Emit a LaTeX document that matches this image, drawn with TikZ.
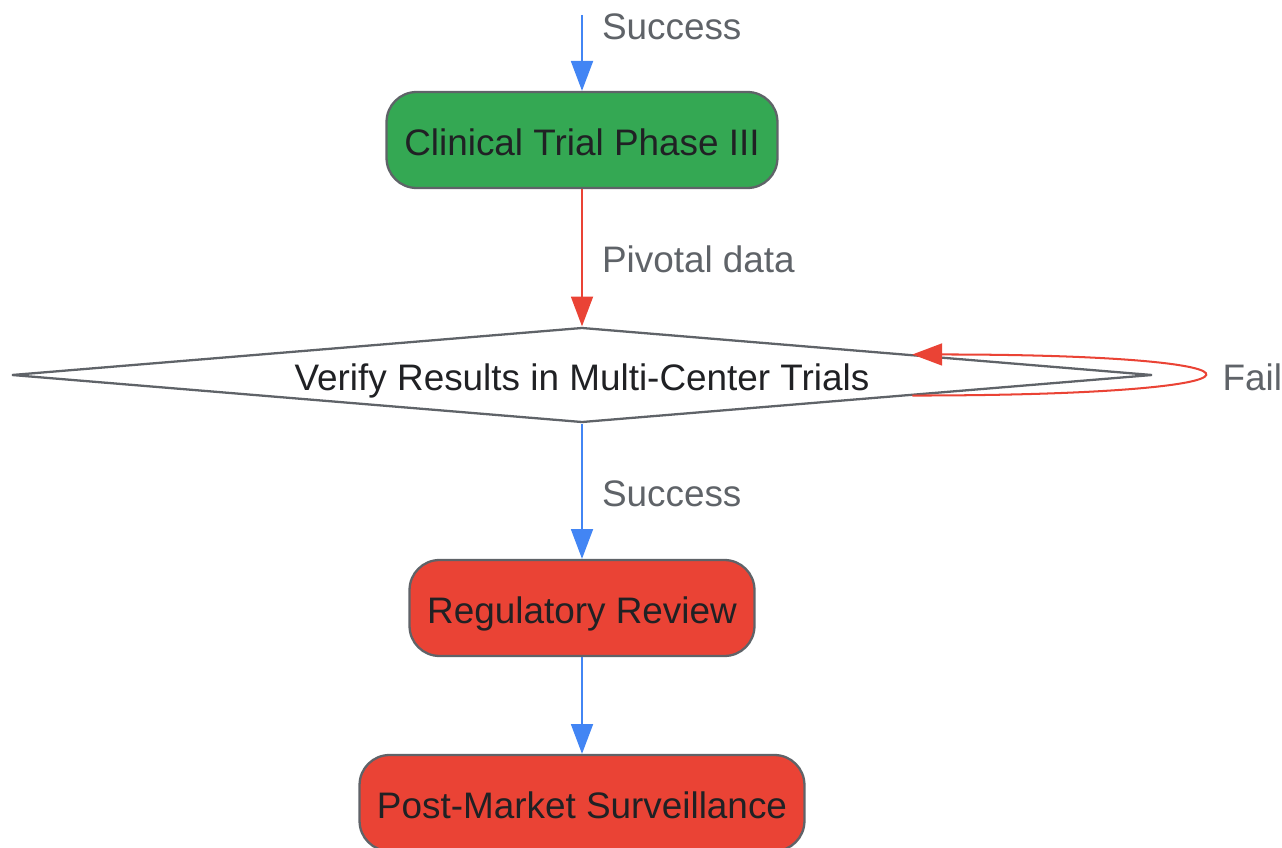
\documentclass[tikz,border=0pt]{standalone}
\usepackage{fontspec}
\setmainfont{Liberation Sans}
\usetikzlibrary{shapes.geometric,arrows.meta,calc}
\definecolor{flowblue}{HTML}{4285F4}
\definecolor{flowred}{HTML}{EA4335}
\definecolor{flowgreen}{HTML}{34A853}
\definecolor{bordergray}{HTML}{5F6368}
\definecolor{inktext}{HTML}{202124}
\tikzset{
    every node/.style={font=\fontsize{21}{25}\selectfont, text height=18.9pt, text depth=1.7pt},
    stage/.style={draw=bordergray, line width=1.3pt, rounded corners=0.6cm,
        minimum height=1.92cm, text=inktext, inner sep=0pt},
    decision/.style={diamond, aspect=11.9, draw=bordergray, line width=1.3pt, fill=white,
        minimum width=22.82cm, minimum height=1.9cm, inner sep=0pt, text=inktext},
    flow/.style={line width=1.15pt, -{Triangle[length=17pt,width=12.5pt]}},
    edgelabel/.style={text=bordergray, inner sep=0pt, anchor=west, xshift=0.38cm}
}
\begin{document}
\begin{tikzpicture}[x=0.02cm,y=-0.02cm]
            \useasboundingbox (0,0) rectangle (1282,848);
            \coordinate (entry) at (582,15);
            \node[stage, fill=flowgreen, minimum width=7.82cm] (trial) at (582,140) {Clinical Trial Phase III};
            \node[decision] (verify) at (582,375) {Verify Results in Multi-Center Trials};
            \node[stage, fill=flowred, minimum width=6.9cm] (review) at (582,608) {Regulatory Review};
            \node[stage, fill=flowred, minimum width=8.9cm] (post) at (582,803) {Post-Market Surveillance};
            \draw[flow, flowblue] (entry) -- node[edgelabel, pos=0.13] {Success} (trial.north);
            \draw[flow, flowred] (trial.south) -- node[edgelabel] {Pivotal data} (verify.north);
            \draw[flow, flowred] ($(verify.south)!0.578!(verify.east)$) .. controls +(387,0) and +(387,0) .. node[edgelabel, pos=0.5] {Fail} ($(verify.north)!0.578!(verify.east)$);
            \draw[flow, flowblue] (verify.south) -- node[edgelabel] {Success} (review.north);
            \draw[flow, flowblue] (review.south) -- (post.north);
        \end{tikzpicture}
\end{document}
